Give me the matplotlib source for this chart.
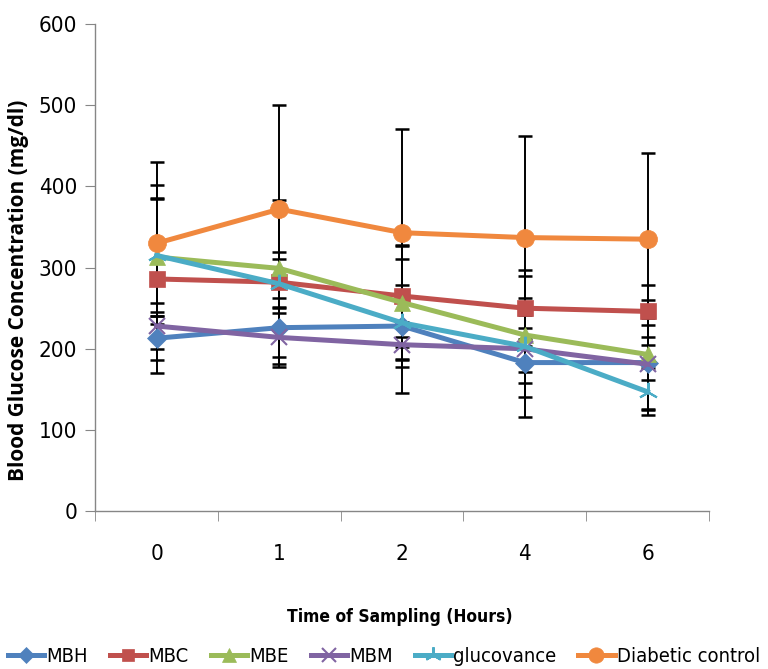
import numpy as np
import matplotlib
matplotlib.use("Agg")
import matplotlib.pyplot as plt

# sampling times (categories on x axis)
times = ["0", "1", "2", "4", "6"]

# mean blood glucose (mg/dl)
mbh = [213, 226, 228, 183, 183]
mbc = [286, 282, 265, 250, 246]
mbe = [313, 299, 257, 217, 193]
mbm = [228, 214, 205, 200, 181]
glucovance = [315, 280, 232, 203, 147]
diabetic = [330, 372, 343, 337, 335]

# error bar half-widths
mbh_err = [27, 36, 83, 42, 22]
mbc_err = [116, 101, 63, 47, 32]
mbe_err = [73, 20, 70, 46, 67]
mbm_err = [28, 37, 28, 42, 57]
glucovance_err = [70, 30, 46, 87, 29]
diabetic_err = [100, 128, 128, 125, 106]

plt.rcParams["font.family"] = ["DejaVu Sans"]
plt.rcParams["font.stretch"] = "condensed"

series = [
    ("MBH", mbh, mbh_err, "#4F81BD", "D", 10),
    ("MBC", mbc, mbc_err, "#C0504D", "s", 11),
    ("MBE", mbe, mbe_err, "#9BBB59", "^", 12),
    ("MBM", mbm, mbm_err, "#8064A2", "x", 12),
    ("glucovance", glucovance, glucovance_err, "#4BACC6", (3, 2, 0), 14),
    ("Diabetic control", diabetic, diabetic_err, "#F0883E", "o", 13),
]

fig = plt.figure(figsize=(7.68, 6.69), dpi=100)
ax = fig.add_axes([0.124, 0.236, 0.799, 0.728])

x = np.arange(len(times))
for name, vals, err, color, marker, ms in series:
    ax.errorbar(x, vals, yerr=err, fmt="none", ecolor="black",
                elinewidth=1.4, capsize=5, capthick=1.8, zorder=2)
for name, vals, err, color, marker, ms in series:
    ax.plot(x, vals, color=color, lw=3.6, marker=marker, ms=ms,
            mew=1.5 if marker in ("x", (3, 2, 0)) else 0.5,
            mec=color, label=name, zorder=3)

ax.set_xlim(-0.5, len(times) - 0.5)
ax.set_ylim(0, 600)
ax.set_yticks(range(0, 601, 100))
ax.set_xticks(x)
ax.set_xticklabels(times)
ax.set_xticks(np.arange(-0.5, len(times), 1), minor=True)
ax.tick_params(axis="x", which="major", length=0, pad=24, labelsize=16)
ax.tick_params(axis="x", which="minor", length=7, direction="out", color="#868686")
ax.tick_params(axis="y", length=7, direction="out", color="#868686", labelsize=16, pad=6)

for side in ("top", "right"):
    ax.spines[side].set_visible(False)
for side in ("left", "bottom"):
    ax.spines[side].set_color("#868686")
    ax.spines[side].set_linewidth(1.0)

ax.set_ylabel("Blood Glucose Concentration (mg/dl)", fontsize=15, fontweight="bold",
              family=["Open Sans", "DejaVu Sans"], fontstretch="normal")
ax.yaxis.set_label_coords(-0.108, 0.454)
ax.set_xlabel("Time of Sampling (Hours)", fontsize=12.5, fontweight="bold")
ax.xaxis.set_label_coords(0.497, -0.199)

fig.legend(loc="center", bbox_to_anchor=(0.5, 0.018), ncol=6, frameon=False,
           fontsize=14.5, handlelength=1.8, columnspacing=1.1, handletextpad=0.1,
           markerscale=0.85)

fig.savefig("out.png", dpi=100)
